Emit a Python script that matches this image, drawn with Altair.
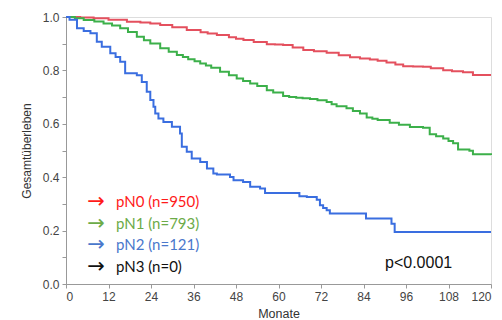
import altair as alt
import pandas as pd

# Kaplan-Meier curves (months, survival)
red_m = [0, 4, 7.8, 12, 17.2, 21, 23.8, 26.6, 30, 34.1, 38, 40, 42.6, 46, 48, 50.1, 53, 56.7, 59, 61.3, 64, 67, 70, 73.6, 77, 80.2, 83, 85.8, 88, 90.5, 93, 95.2, 98, 100.8, 103, 106.5, 109, 112.1, 114.9, 120]
red_v = [1.0, 0.998, 0.995, 0.990, 0.982, 0.979, 0.976, 0.970, 0.962, 0.951, 0.943, 0.938, 0.933, 0.924, 0.919, 0.914, 0.906, 0.898, 0.897, 0.895, 0.886, 0.876, 0.872, 0.866, 0.857, 0.849, 0.845, 0.841, 0.836, 0.830, 0.822, 0.816, 0.815, 0.814, 0.808, 0.801, 0.797, 0.793, 0.783, 0.783]

green_m = [0, 2.5, 5, 8, 10.6, 13, 15.3, 17.5, 20, 22, 23.8, 26.6, 29, 31.3, 33, 34.5, 36.3, 37.9, 39.5, 41, 43.5, 46, 48.2, 50, 52, 54, 56.7, 58.5, 61.3, 63, 65, 66.8, 68.9, 71, 73.6, 75, 76.4, 79.2, 81, 83, 84.9, 86.5, 88, 91.4, 94, 97.1, 100.8, 102.7, 104.5, 106.5, 108, 109.3, 110.7, 113.9, 114.9, 120]
green_v = [1.0, 0.995, 0.989, 0.983, 0.976, 0.968, 0.958, 0.944, 0.926, 0.913, 0.901, 0.883, 0.870, 0.858, 0.850, 0.842, 0.834, 0.826, 0.818, 0.810, 0.795, 0.782, 0.770, 0.760, 0.751, 0.742, 0.726, 0.717, 0.704, 0.700, 0.698, 0.696, 0.693, 0.688, 0.682, 0.673, 0.666, 0.658, 0.648, 0.639, 0.624, 0.619, 0.614, 0.604, 0.596, 0.588, 0.585, 0.561, 0.553, 0.545, 0.536, 0.527, 0.504, 0.499, 0.486, 0.483]

blue_m = [0, 1, 3.1, 5, 6.9, 8.7, 10.1, 12.5, 14, 15.3, 16.7, 20, 21.4, 22.8, 23.8, 24.7, 25.2, 26.1, 27.5, 29.9, 32.2, 32.7, 34.1, 35.5, 37.9, 39.8, 41.6, 42.6, 46.3, 47.3, 50, 52, 54.8, 56.2, 65.9, 68, 70.8, 71.7, 72.6, 73.6, 74.5, 84.7, 91.9, 92.8, 120]
blue_v = [1.0, 0.99, 0.958, 0.948, 0.939, 0.907, 0.889, 0.864, 0.850, 0.832, 0.789, 0.782, 0.757, 0.720, 0.689, 0.664, 0.639, 0.620, 0.607, 0.589, 0.564, 0.514, 0.495, 0.470, 0.457, 0.433, 0.414, 0.410, 0.401, 0.389, 0.382, 0.364, 0.358, 0.341, 0.329, 0.326, 0.316, 0.295, 0.285, 0.276, 0.264, 0.245, 0.226, 0.195, 0.195]

groups = ["pN0", "pN1", "pN2"]
line_colors = ["#e4505e", "#3cb04a", "#3a6ee0"]

legend_labels = ["pN0 (n=950)", "pN1 (n=793)", "pN2 (n=121)", "pN3 (n=0)"]
legend_colors = ["#ff1a1a", "#6cab48", "#4a78cc", "#111111"]

x_ticks = [0, 12, 24, 36, 48, 60, 72, 84, 96, 108, 120]
y_ticks = [0.0, 0.1, 0.2, 0.3, 0.4, 0.5, 0.6, 0.7, 0.8, 0.9, 1.0]
p_text = "p<0.0001"

rows = []
for g, ms, vs in zip(groups, [red_m, green_m, blue_m], [red_v, green_v, blue_v]):
    for m, v in zip(ms, vs):
        rows.append({"group": g, "month": m, "surv": v})
df = pd.DataFrame(rows)

W, H = 425, 267

lines = alt.Chart(df).mark_line(interpolate="step-after", strokeWidth=2).encode(
    x=alt.X("month:Q", scale=alt.Scale(domain=[0, 120], nice=False),
            axis=alt.Axis(values=x_ticks, title="Monate", grid=False,
                          labelFontSize=12, titleFontSize=12.5, titleFontWeight="normal",
                          titleY=29, titleBaseline="middle",
                          tickSize=4, labelPadding=3, domainColor="#999999",
                          tickColor="#999999", labelColor="#444444", titleColor="#333333",
                          labelFont="Liberation Sans", titleFont="Liberation Sans")),
    y=alt.Y("surv:Q", scale=alt.Scale(domain=[0, 1], nice=False),
            axis=alt.Axis(values=y_ticks, title="Gesamtüberleben", grid=False,
                          labelExpr="round(datum.value*10) % 2 == 0 ? format(datum.value, '.1f') : ''",
                          labelFontSize=12, titleFontSize=12, titleFontWeight="normal",
                          tickSize=4, labelPadding=3, titlePadding=9,
                          domainColor="#999999", tickColor="#999999",
                          labelColor="#444444", titleColor="#333333",
                          labelFont="Liberation Sans", titleFont="Liberation Sans")),
    color=alt.Color("group:N", scale=alt.Scale(domain=groups, range=line_colors), legend=None),
    detail="group:N",
)

layers = [lines]
for i, (lab, col) in enumerate(zip(legend_labels, legend_colors)):
    yv = 184.7 + i * 21.8
    arrow = alt.Chart(pd.DataFrame({"t": ["→"]})).mark_text(
        align="center", baseline="middle", fontSize=21, color=col, font="DejaVu Sans"
    ).encode(x=alt.value(30), y=alt.value(yv), text="t:N")
    txt = alt.Chart(pd.DataFrame({"t": [lab]})).mark_text(
        align="left", baseline="middle", fontSize=15, color=col, font="Lato"
    ).encode(x=alt.value(50), y=alt.value(yv), text="t:N")
    layers += [arrow, txt]

ptxt = alt.Chart(pd.DataFrame({"t": [p_text]})).mark_text(
    align="left", baseline="middle", fontSize=16, color="#111111", font="Liberation Sans"
).encode(x=alt.value(319), y=alt.value(246), text="t:N")
layers.append(ptxt)

chart = alt.layer(*layers).properties(
    width=W, height=H,
    autosize=alt.AutoSizeParams(type="none"),
    padding={"left": 66, "top": 17, "right": 11, "bottom": 36},
).configure_view(stroke="#cccccc", strokeWidth=1.5).configure(background="white")

chart.save("out.html", embed_options={"renderer": "svg", "actions": False})
